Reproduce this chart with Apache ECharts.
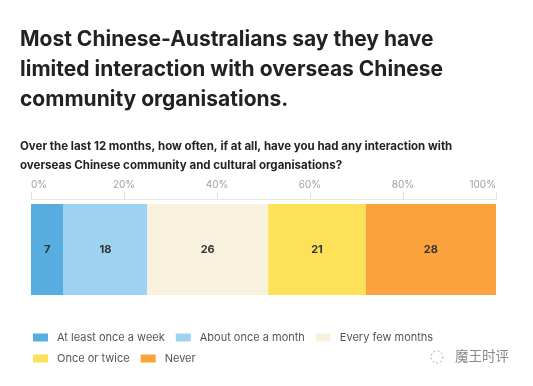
<!DOCTYPE html>
<html>
<head>
<meta charset="utf-8">
<script src="https://cdn.jsdelivr.net/npm/echarts@6/dist/echarts.min.js"></script>
<style>
html,body{margin:0;padding:0;background:#fff;}
#c{width:533px;height:386px;}
</style>
</head>
<body>
<div id="c"></div>
<script>
const categories = ['Interaction'];
const seriesNames = ['At least once a week', 'About once a month', 'Every few months', 'Once or twice', 'Never'];
const values = [7, 18, 26, 21, 28];
const tickValues = [0, 20, 40, 60, 80, 100];
const colors = ['#57ade0', '#9dd2f1', '#f8f1de', '#fde259', '#fba23d'];

const chart = echarts.init(document.getElementById('c'), null, {renderer: 'canvas'});
const font = 'Inter, "Open Sans", "DejaVu Sans", sans-serif';

const series = seriesNames.map((name, i) => ({
  name: name,
  type: 'bar',
  stack: 'total',
  barWidth: 91,
  data: [values[i]],
  itemStyle: {color: colors[i]},
  label: {
    show: true,
    position: 'inside',
    color: '#333',
    fontFamily: font,
    fontWeight: 'bold',
    fontSize: 11,
    formatter: p => p.value
  },
  emphasis: {disabled: true}
}));

const legendCommon = {
  left: 33, padding: 0,
  itemWidth: 15, itemHeight: 8, itemGap: 11,
  icon: 'rect',
  textStyle: {fontSize: 11, color: '#555', fontFamily: font, padding: [0, 0, 0, 4]}
};

chart.setOption({
  animation: false,
  backgroundColor: '#fff',
  textStyle: {fontFamily: font},
  title: [{
    text: 'Most Chinese-Australians say they have\nlimited interaction with overseas Chinese\ncommunity organisations.',
    left: 20, top: 25, padding: 0,
    textStyle: {fontSize: 21, fontWeight: 'bold', color: '#222', lineHeight: 30, fontFamily: font}
  }, {
    text: 'Over the last 12 months, how often, if at all, have you had any interaction with\noverseas Chinese community and cultural organisations?',
    left: 20, top: 137, padding: 0,
    textStyle: {fontSize: 11.5, fontWeight: 'bold', color: '#222', lineHeight: 19, fontFamily: font}
  }],
  legend: [
    Object.assign({data: seriesNames.slice(0, 3), top: 332}, legendCommon),
    Object.assign({data: seriesNames.slice(3), top: 353}, legendCommon)
  ],
  grid: {left: 31, right: 37, top: 199, height: 101},
  xAxis: {
    type: 'value',
    position: 'top',
    min: 0, max: 100, interval: 20,
    axisLine: {show: true, lineStyle: {color: '#e6e6e6'}},
    axisTick: {show: true, length: 7, lineStyle: {color: '#e0e0e0'}},
    splitLine: {show: false},
    axisLabel: {
      margin: 9,
      fontSize: 10,
      color: '#a0a0a0',
      fontFamily: font,
      alignMinLabel: 'left',
      alignMaxLabel: 'right',
      formatter: v => tickValues.includes(v) ? v + '%' : ''
    }
  },
  yAxis: {
    type: 'category',
    data: categories,
    show: false
  },
  series: series,
  graphic: [{
    type: 'text',
    left: 455, top: 349,
    style: {text: '魔王时评', fill: '#888', fontSize: 13.5, fontFamily: '"Noto Sans CJK SC", sans-serif'}
  }, {
    type: 'circle',
    shape: {cx: 437, cy: 357, r: 6},
    style: {fill: 'none', stroke: '#aaa', lineWidth: 1, lineDash: [2, 2]}
  }]
});
</script>
</body>
</html>
